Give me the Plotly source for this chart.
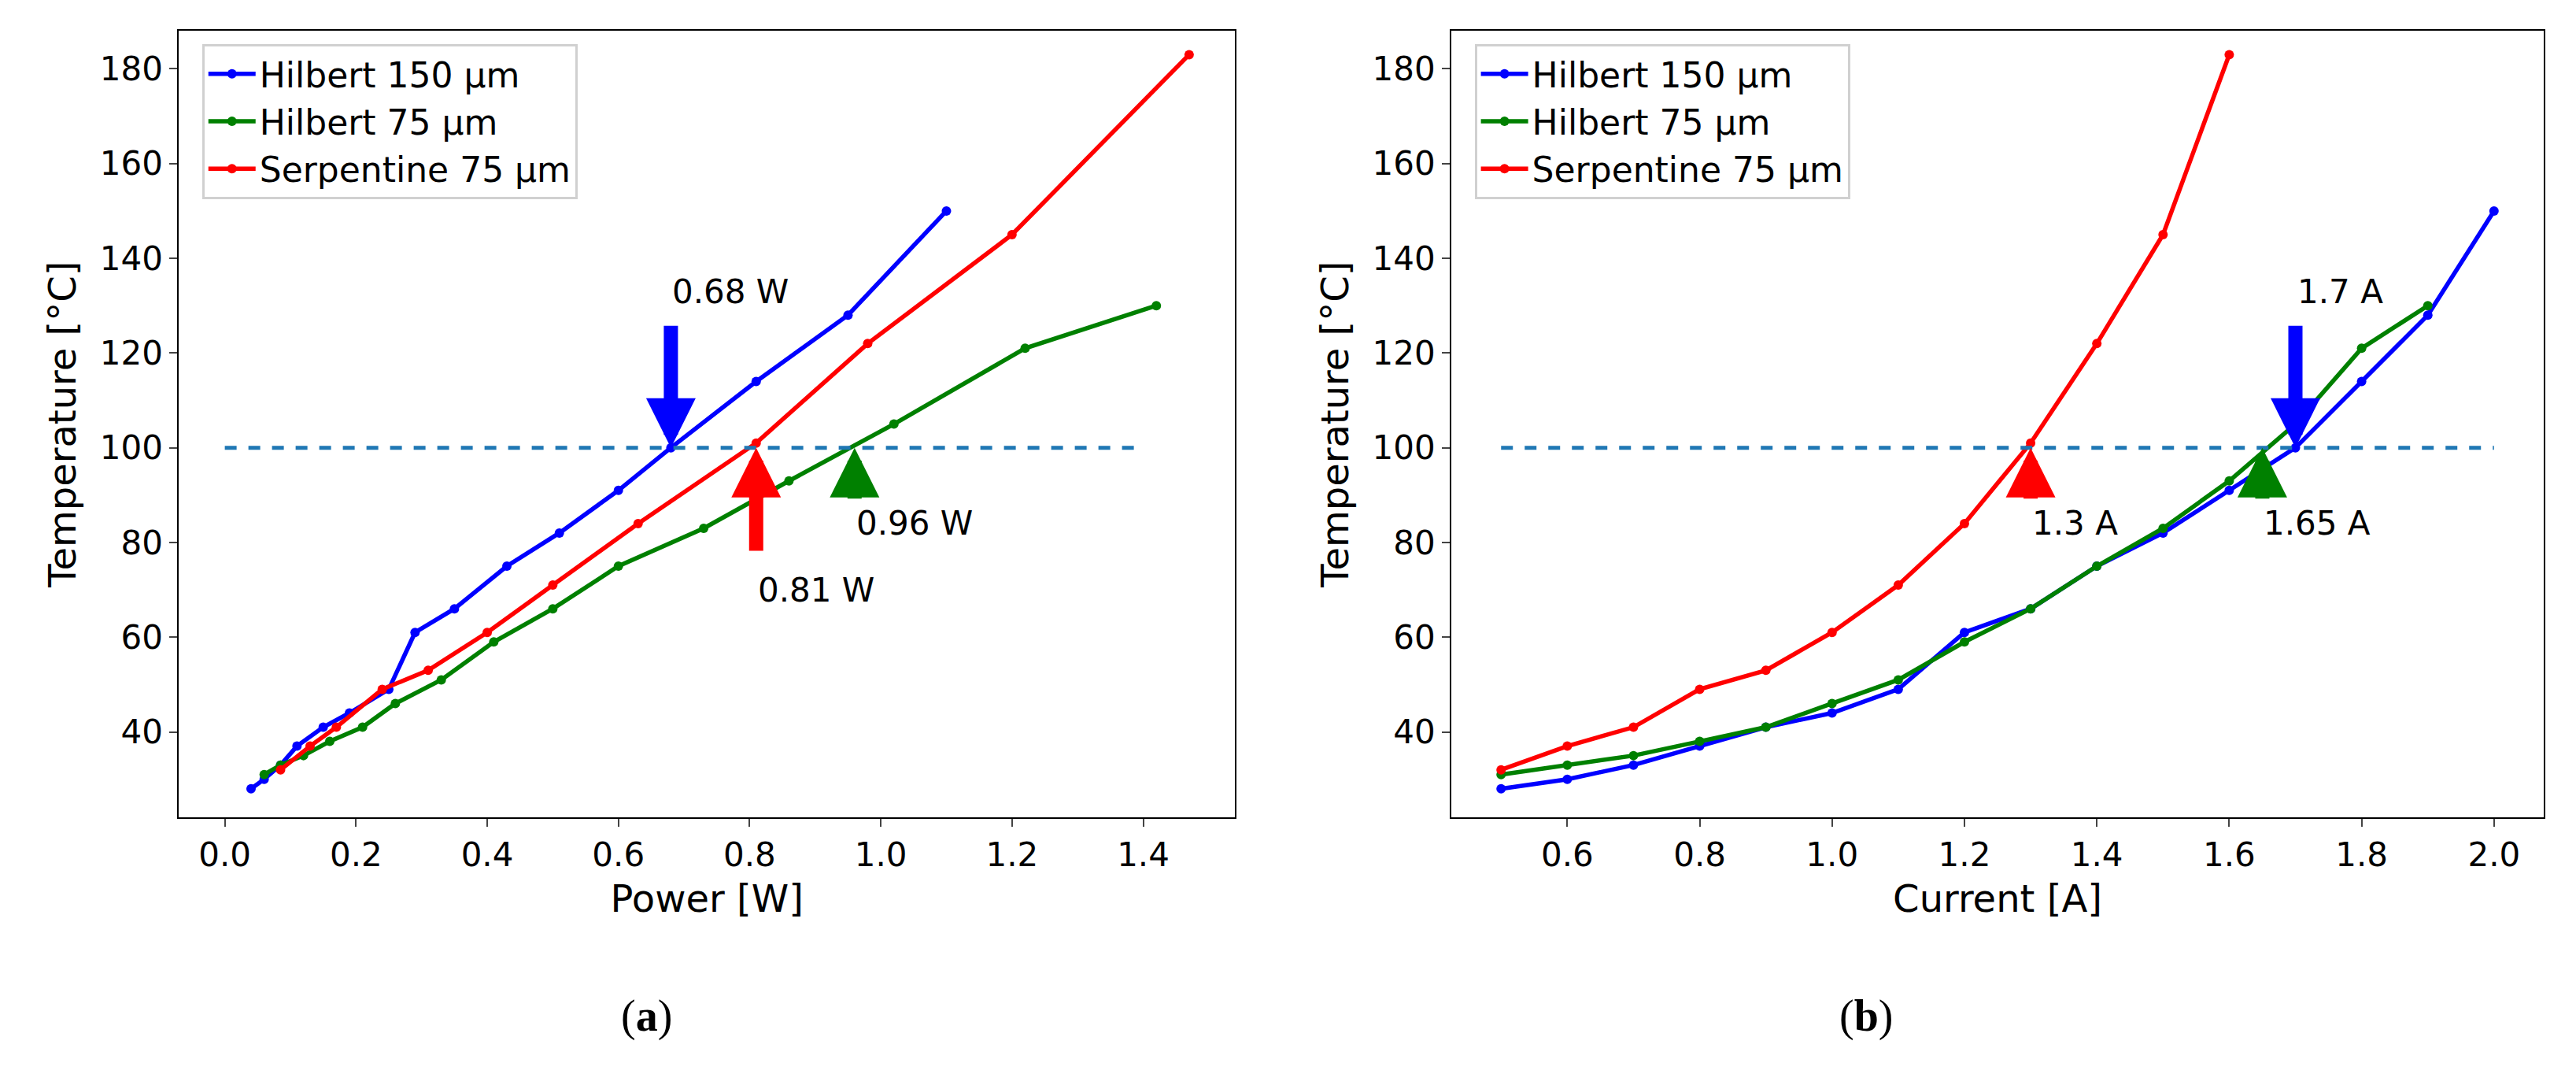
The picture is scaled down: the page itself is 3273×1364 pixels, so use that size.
import plotly.graph_objects as go

h150_power = [0.04,0.06,0.085,0.11,0.15,0.19,0.25,0.29,0.35,0.43,0.51,0.6,0.68,0.81,0.95,1.1]
h150_temp = [28,30,33,37,41,44,49,61,66,75,82,91,100,114,128,150]
h150_cur = [0.5,0.6,0.7,0.8,0.9,1.0,1.1,1.2,1.3,1.4,1.5,1.6,1.7,1.8,1.9,2.0]

h75_power = [0.06,0.085,0.12,0.16,0.21,0.26,0.33,0.41,0.5,0.6,0.73,0.86,1.02,1.22,1.42]
h75_temp = [31,33,35,38,41,46,51,59,66,75,83,93,105,121,130]
h75_cur = [0.5,0.6,0.7,0.8,0.9,1.0,1.1,1.2,1.3,1.4,1.5,1.6,1.7,1.8,1.9]

s75_power = [0.085,0.13,0.17,0.24,0.31,0.4,0.5,0.63,0.81,0.98,1.2,1.47]
s75_temp = [32,37,41,49,53,61,71,84,101,122,145,183]
s75_cur = [0.5,0.6,0.7,0.8,0.9,1.0,1.1,1.2,1.3,1.4,1.5,1.6]

names = ["Hilbert 150 µm", "Hilbert 75 µm", "Serpentine 75 µm"]
colors = ["blue", "green", "red"]

left_marks = [(0.68, 126, "0.68 W", 133, "blue", 0.0),
              (0.81, 78, "0.81 W", 70, "red", 0.0),
              (0.96, 89, "0.96 W", 84, "green", 0.0)]
right_marks = [(1.3, 89, "1.3 A", 84, "red", 0.0),
               (1.65, 89, "1.65 A", 84, "green", 0.0),
               (1.7, 126, "1.7 A", 133, "blue", 0.0)]

fig = go.Figure()
F = "DejaVu Sans"
data_left = [(h150_power, h150_temp), (h75_power, h75_temp), (s75_power, s75_temp)]
data_right = [(h150_cur, h150_temp), (h75_cur, h75_temp), (s75_cur, s75_temp)]
for i, (x, y) in enumerate(data_left):
    fig.add_trace(go.Scatter(x=x, y=y, mode="lines+markers", name=names[i],
                             line=dict(color=colors[i], width=5.5), marker=dict(size=12),
                             xaxis="x", yaxis="y", legend="legend"))
for i, (x, y) in enumerate(data_right):
    fig.add_trace(go.Scatter(x=x, y=y, mode="lines+markers", name=names[i],
                             line=dict(color=colors[i], width=5.5), marker=dict(size=12),
                             xaxis="x2", yaxis="y2", legend="legend2"))
fig.add_trace(go.Scatter(x=[0, 1.4], y=[100, 100], mode="lines", showlegend=False,
                         line=dict(color="#1f77b4", width=5, dash="dash"), xaxis="x", yaxis="y"))
fig.add_trace(go.Scatter(x=[0.5, 2.0], y=[100, 100], mode="lines", showlegend=False,
                         line=dict(color="#1f77b4", width=5, dash="dash"), xaxis="x2", yaxis="y2"))

ann = []
for marks, xr, yr in [(left_marks, "x", "y"), (right_marks, "x2", "y2")]:
    for x, tail, lab, ly, c, dx in marks:
        ann.append(dict(x=x, y=100, ax=x, ay=tail, xref=xr, yref=yr, axref=xr, ayref=yr,
                        showarrow=True, arrowhead=2, arrowsize=0.7, arrowwidth=18,
                        arrowcolor=c, text=""))
        ann.append(dict(x=x + dx, y=ly, xref=xr, yref=yr, text=lab, showarrow=False,
                        xanchor="left", font=dict(size=42, color="black", family=F)))
ann.append(dict(x=0.238, y=0.035, xref="paper", yref="paper", text="(<b>a</b>)", showarrow=False,
                font=dict(size=56, family="Liberation Serif", color="black")))
ann.append(dict(x=0.733, y=0.035, xref="paper", yref="paper", text="(<b>b</b>)", showarrow=False,
                font=dict(size=56, family="Liberation Serif", color="black")))

ax_common = dict(showline=True, linecolor="black", linewidth=2, mirror=True, ticks="outside",
                 ticklen=10, tickwidth=2, showgrid=False, zeroline=False,
                 tickfont=dict(size=42, family=F, color="black"))
tfont = dict(size=48, family=F, color="black")
leg = dict(x=0.076, y=0.965, xanchor="left", yanchor="top", bordercolor="#d0d0d0", borderwidth=3,
           bgcolor="white", font=dict(size=44, family=F, color="black"), itemwidth=60)
fig.update_layout(
    width=3273, height=1364, plot_bgcolor="white", paper_bgcolor="white",
    margin=dict(l=0, r=0, t=0, b=0), annotations=ann,
    xaxis=dict(domain=[0.067, 0.477], range=[-0.07, 1.54], dtick=0.2, tickformat=".1f",
               title=dict(text="Power [W]", font=tfont), anchor="y", **ax_common),
    yaxis=dict(domain=[0.245, 0.977], range=[22, 188], dtick=20,
               title=dict(text="Temperature [°C]", font=tfont), anchor="x", **ax_common),
    xaxis2=dict(domain=[0.561, 0.985], range=[0.425, 2.075], dtick=0.2, tickformat=".1f",
                title=dict(text="Current [A]", font=tfont), anchor="y2", **ax_common),
    yaxis2=dict(domain=[0.245, 0.977], range=[22, 188], dtick=20,
                title=dict(text="Temperature [°C]", font=tfont), anchor="x2", **ax_common),
    legend=leg,
    legend2=dict(leg, x=0.570),
)
fig.write_html("out.html")
